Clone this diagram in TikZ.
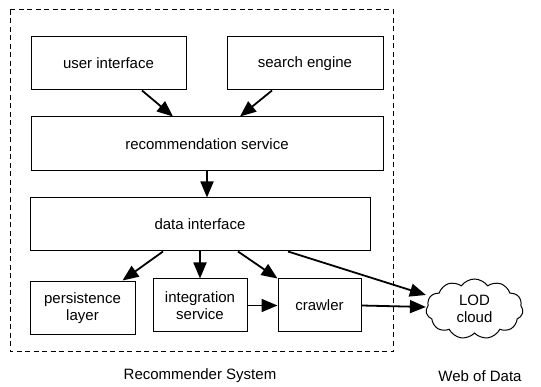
\documentclass[tikz,border=0pt]{standalone}
\usepackage{fontspec}
\setmainfont{Liberation Sans}
\usetikzlibrary{arrows.meta,shapes.symbols,calc}
\begin{document}
\begin{tikzpicture}[x=1pt,y=-1pt,
  box/.style={draw,line width=1pt,inner sep=0pt,font=\fontsize{15}{17}\selectfont,align=center},
  conn/.style={line width=1.8pt,-{Triangle[length=16pt,width=13pt]}},
  lbl/.style={font=\fontsize{15}{17}\selectfont}]
\useasboundingbox (0,0) rectangle (541,387);
\draw[line width=1pt,dash pattern=on 5pt off 3.5pt] (10,10) rectangle (393,352);
\node[box,minimum width=155pt,minimum height=53pt] (ui) at (108.5,63.5) {user interface};
\node[box,minimum width=156pt,minimum height=53pt] (se) at (305,63.5) {search engine};
\node[box,minimum width=352pt,minimum height=54pt] (rs) at (207,144) {recommendation service};
\node[box,minimum width=340pt,minimum height=53pt] (di) at (200,224.5) {data interface};
\node[box,minimum width=105pt,minimum height=53pt] (pl) at (82.5,308.5) {persistence\\layer};
\node[box,minimum width=94pt,minimum height=53pt] (is) at (200,305.5) {integration\\service};
\node[box,minimum width=83pt,minimum height=53pt] (cr) at (319.5,305.5) {crawler};
\node[box,shape=cloud,cloud puffs=11,cloud puff arc=110,aspect=1.6,minimum width=97pt,minimum height=60pt] (lod) at (474.5,309) {LOD\\cloud};
\node[lbl] (rsys) at (200,376) {Recommender System};
\node[lbl] (wod) at (480,376) {Web of Data};
\draw[conn] ([xshift=33.5pt]ui.south) -- ([xshift=-34pt]rs.north);
\draw[conn] ([xshift=-33pt]se.south) -- ([xshift=33pt]rs.north);
\draw[conn] (rs.south) -- (rs.south |- di.north);
\draw[conn] ([xshift=-37pt]di.south) -- ([xshift=40pt,yshift=1pt]pl.north);
\draw[conn] (di.south) -- (is.north);
\draw[conn] ([xshift=38pt]di.south) -- (cr.north west);
\draw[conn] ([xshift=88pt]di.south) -- ([yshift=14pt]lod.west);
\draw[conn] (is.east) -- (cr.west);
\draw[conn] (cr.east) -- ([yshift=2pt]lod.west);
\end{tikzpicture}
\end{document}
